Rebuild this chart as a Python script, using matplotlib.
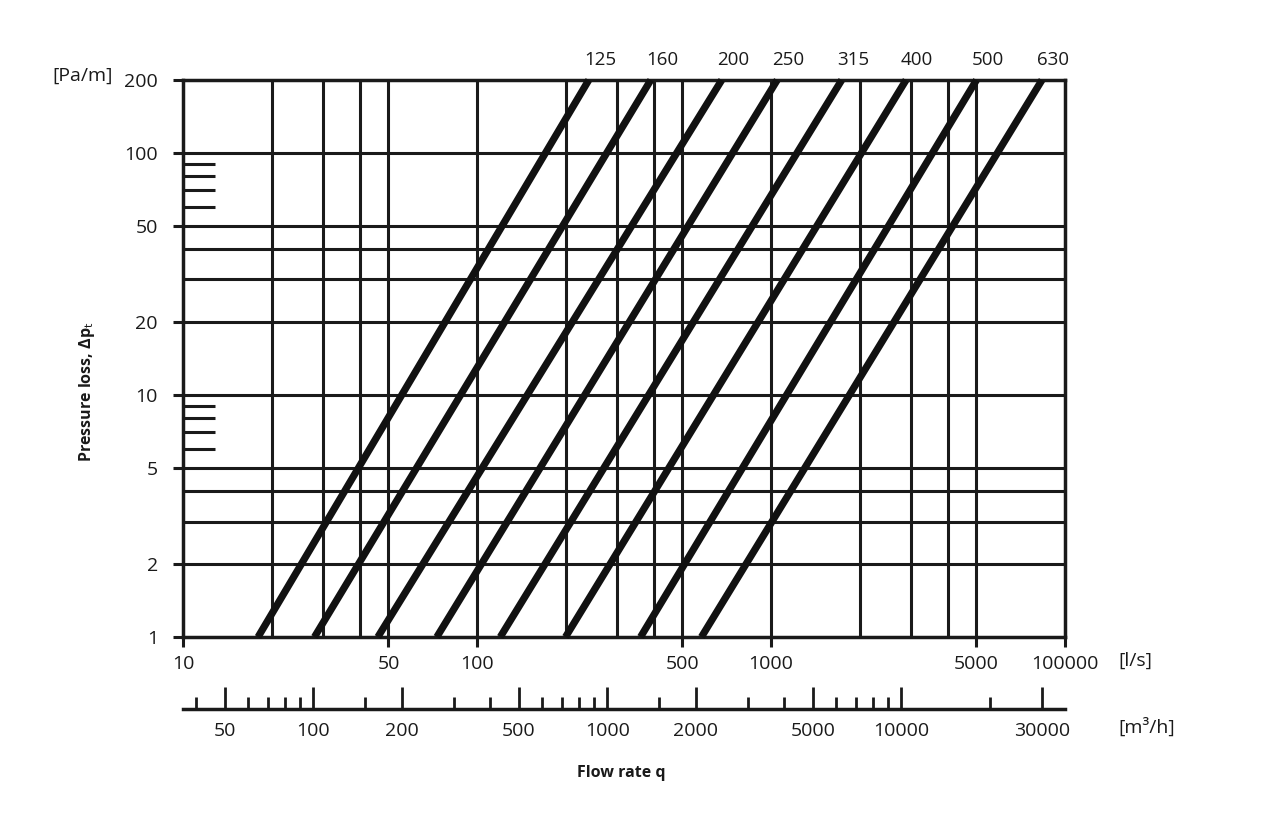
import numpy as np
import matplotlib.pyplot as plt
from matplotlib.ticker import FixedLocator, FixedFormatter, NullFormatter, NullLocator

plt.rcParams['font.family'] = ['Open Sans', 'DejaVu Sans']

# Duct diameters [mm] and flow rate [l/s] where each line meets 1 Pa/m and 200 Pa/m
diameters = ['125', '160', '200', '250', '315', '400', '500', '630']
flow_at_low = [18, 28, 46, 73, 120, 200, 360, 580]
flow_at_high = [240, 390, 680, 1050, 1740, 2880, 5000, 8350]
loss_ends = [1, 200]

# grid lines
grid_x = [20, 30, 40, 50, 100, 200, 300, 400, 500, 1000, 2000, 3000, 4000, 5000]
grid_y = [2, 3, 4, 5, 10, 20, 30, 40, 50, 100]

# axis ticks
x_ticks = [10, 50, 100, 500, 1000, 5000, 10000]
x_ticklabels = ['10', '50', '100', '500', '1000', '5000', '100000']
y_ticks = [1, 2, 5, 10, 20, 50, 100, 200]
y_ticklabels = ['1', '2', '5', '10', '20', '50', '100', '200']
y_minor = [6, 7, 8, 9, 60, 70, 80, 90]

# second flow scale in m3/h
ls_to_m3h = 3.6
m3h_major = [50, 100, 200, 500, 1000, 2000, 5000, 10000, 30000]
m3h_labels = ['50', '100', '200', '500', '1000', '2000', '5000', '10000', '30000']
m3h_minor = [40, 60, 70, 80, 90, 150, 300, 400, 600, 700, 800, 900,
             1500, 3000, 4000, 6000, 7000, 8000, 9000, 20000]

W, H = 1276, 838
fig = plt.figure(figsize=(W / 100, H / 100), dpi=100)
fig.patch.set_facecolor('white')

left, right, top, bottom = 183, 1065, 80, 637
ax = fig.add_axes([left / W, 1 - bottom / H, (right - left) / W, (bottom - top) / H])
ax.set_xscale('log')
ax.set_yscale('log')
ax.set_xlim(10, 10000)
ax.set_ylim(1, 200)

# grid
for v in grid_x:
    ax.axvline(v, color='#1a1a1a', lw=2.2, zorder=1)
for v in grid_y:
    ax.axhline(v, color='#1a1a1a', lw=2.2, zorder=1)

# duct lines
for d, q1, q2 in zip(diameters, flow_at_low, flow_at_high):
    ax.plot([q1, q2], loss_ends, color='#111111', lw=5.2,
            solid_capstyle='butt', zorder=3, clip_on=False)
    ax.annotate(d, xy=(q2, loss_ends[1]), xytext=(8, 11),
                textcoords='offset points', ha='center', va='baseline',
                fontsize=13.5, color='#1a1a1a', annotation_clip=False)

for s in ax.spines.values():
    s.set_linewidth(2.5)
    s.set_color('#1a1a1a')

ax.xaxis.set_major_locator(FixedLocator(x_ticks))
ax.xaxis.set_major_formatter(FixedFormatter(x_ticklabels))
ax.xaxis.set_minor_locator(NullLocator())
ax.yaxis.set_major_locator(FixedLocator(y_ticks))
ax.yaxis.set_major_formatter(FixedFormatter(y_ticklabels))
ax.yaxis.set_minor_locator(FixedLocator(y_minor))
ax.yaxis.set_minor_formatter(NullFormatter())

ax.tick_params(axis='both', which='major', direction='out', length=7, width=2.2,
               labelsize=14, colors='#1a1a1a')
ax.tick_params(axis='x', which='major', pad=6)
ax.tick_params(axis='y', which='major', pad=11)
ax.tick_params(axis='y', which='minor', direction='in', length=23, width=2.2,
               colors='#1a1a1a')

# m3/h scale
ax2 = fig.add_axes([left / W, 1 - 709 / H, (right - left) / W, 0.0])
ax2.set_xscale('log')
ax2.set_xlim(10 * ls_to_m3h, 10000 * ls_to_m3h)
ax2.patch.set_visible(False)
for side in ['top', 'left', 'right']:
    ax2.spines[side].set_visible(False)
ax2.spines['bottom'].set_linewidth(2.5)
ax2.spines['bottom'].set_color('#1a1a1a')
ax2.set_yticks([])
ax2.xaxis.set_major_locator(FixedLocator(m3h_major))
ax2.xaxis.set_major_formatter(FixedFormatter(m3h_labels))
ax2.xaxis.set_minor_locator(FixedLocator(m3h_minor))
ax2.xaxis.set_minor_formatter(NullFormatter())
ax2.tick_params(axis='x', which='major', direction='in', length=16, width=2,
                labelsize=14, pad=9, colors='#1a1a1a')
ax2.tick_params(axis='x', which='minor', direction='in', length=9, width=2,
                colors='#1a1a1a')

# texts
fig.text(52 / W, 1 - 76 / H, '[Pa/m]', ha='left', va='center', fontsize=14, color='#1a1a1a')
fig.text(1118 / W, 1 - 661 / H, '[l/s]', ha='left', va='center', fontsize=14, color='#1a1a1a')
fig.text(1118 / W, 1 - 727 / H, '[m³/h]', ha='left', va='center', fontsize=14, color='#1a1a1a')
fig.text(621 / W, 1 - 773 / H, 'Flow rate q', ha='center', va='center', fontsize=11.5,
         fontweight='bold', color='#1a1a1a')
fig.text(87 / W, 1 - 392 / H, 'Pressure loss, Δp$_{\\rm t}$', rotation=90,
         ha='center', va='center', fontsize=11.5, fontweight='bold', color='#1a1a1a')

fig.savefig('out.png', dpi=100, facecolor='white')
